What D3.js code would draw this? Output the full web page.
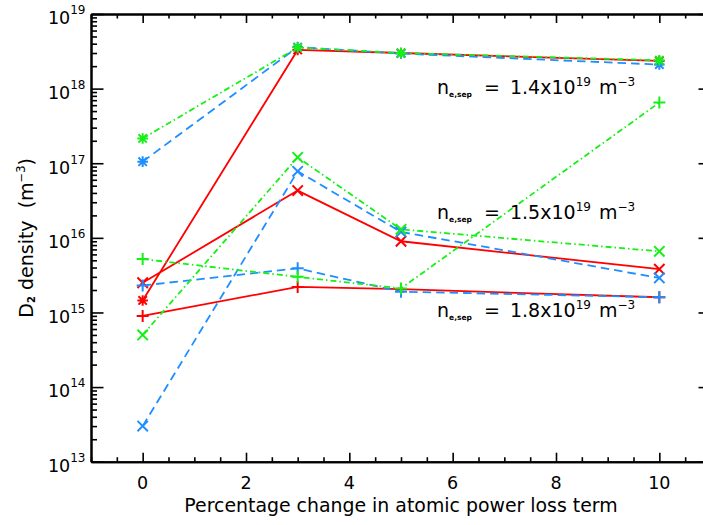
<!DOCTYPE html>
<html>
<head>
<meta charset="utf-8">
<script src="https://cdn.jsdelivr.net/npm/d3@7"></script>
<style>
  body { margin: 0; background: #fff; }
  svg { display: block; }
  text { font-family: "DejaVu Sans", sans-serif; fill: #000; white-space: pre; }
</style>
</head>
<body>
<svg id="chart" width="703" height="525"></svg>
<script>
// Percentage change in the atomic power loss term (x positions of every run)
const xValues = [0, 3, 5, 10];

// D2 density (m^-3) for each upstream separatrix density and each model variant
// red / solid
const redSep14 = [1.45e15, 3.3e18, 3.0e18, 2.35e18];
const redSep15 = [2.5e15, 4.3e16, 9.0e15, 3.8e15];
const redSep18 = [9.0e14, 2.2e15, 2.05e15, 1.6e15];
// blue / dashed
const blueSep14 = [1.05e17, 3.6e18, 2.95e18, 2.1e18];
const blueSep15 = [3.0e13, 7.8e16, 1.2e16, 2.9e15];
const blueSep18 = [2.3e15, 3.9e15, 1.9e15, 1.6e15];
// green / dash-dot
const greenSep14 = [2.15e17, 3.55e18, 3.0e18, 2.4e18];
const greenSep15 = [5.0e14, 1.2e17, 1.3e16, 6.6e15];
const greenSep18 = [5.2e15, 3.0e15, 2.1e15, 6.5e17];

// Axis ticks and annotation text
const xTickValues = [0, 2, 4, 6, 8, 10];
const yDecadeExponents = [13, 14, 15, 16, 17, 18, 19];
const separatrixDensities = ["1.4", "1.5", "1.8"];

const svg = d3.select("#chart");
const plot = { left: 91, right: 711, top: 14, bottom: 461.7 };

const x = d3.scaleLinear().domain([-1, 11]).range([plot.left, plot.right]);
const y = d3.scaleLog().domain([1e13, 1e19]).range([plot.bottom, plot.top]);

const RED = "#ff0000", BLUE = "#1e8fff", GREEN = "#16f016";
const lineStyles = {
  solid: null,
  dashed: "8.5,5",
  dashdot: "6,3,1.5,3"
};

const series = [
  { values: redSep14, color: RED, dash: lineStyles.solid, marker: "asterisk" },
  { values: redSep15, color: RED, dash: lineStyles.solid, marker: "cross" },
  { values: redSep18, color: RED, dash: lineStyles.solid, marker: "plus" },
  { values: blueSep14, color: BLUE, dash: lineStyles.dashed, marker: "asterisk" },
  { values: blueSep15, color: BLUE, dash: lineStyles.dashed, marker: "cross" },
  { values: blueSep18, color: BLUE, dash: lineStyles.dashed, marker: "plus" },
  { values: greenSep14, color: GREEN, dash: lineStyles.dashdot, marker: "asterisk" },
  { values: greenSep15, color: GREEN, dash: lineStyles.dashdot, marker: "cross" },
  { values: greenSep18, color: GREEN, dash: lineStyles.dashdot, marker: "plus" }
];

// ---- minor tick values
const xMinor = d3.range(-1, 11.001, 0.5).filter(v => !xTickValues.includes(v));
const yMajor = yDecadeExponents.map(e => Math.pow(10, e));
const yMinor = [];
yDecadeExponents.slice(0, -1).forEach(e => {
  for (let m = 2; m <= 9; m++) yMinor.push(m * Math.pow(10, e));
});

// ---- axes (ticks point inward on all four sides)
function styleAxis(g, width) {
  g.selectAll("path.domain").attr("stroke", "#000").attr("stroke-width", width);
  g.selectAll(".tick line").attr("stroke", "#000").attr("stroke-width", 1.6);
  g.selectAll(".tick text").remove();
}

const axes = svg.append("g").attr("class", "axes");

axes.append("g").attr("transform", `translate(0,${plot.bottom})`)
  .call(d3.axisBottom(x).tickValues(xMinor).tickSize(-4.5).tickSizeOuter(0).tickFormat(""))
  .call(g => styleAxis(g, 2));
axes.append("g").attr("transform", `translate(0,${plot.bottom})`)
  .call(d3.axisBottom(x).tickValues(xTickValues).tickSize(-9).tickSizeOuter(0).tickFormat(""))
  .call(g => styleAxis(g, 2));
axes.append("g").attr("transform", `translate(0,${plot.top})`)
  .call(d3.axisTop(x).tickValues(xMinor).tickSize(-4.5).tickSizeOuter(0).tickFormat(""))
  .call(g => styleAxis(g, 2));
axes.append("g").attr("transform", `translate(0,${plot.top})`)
  .call(d3.axisTop(x).tickValues(xTickValues).tickSize(-9).tickSizeOuter(0).tickFormat(""))
  .call(g => styleAxis(g, 2));

axes.append("g").attr("transform", `translate(${plot.left},0)`)
  .call(d3.axisLeft(y).tickValues(yMinor).tickSize(-6).tickSizeOuter(0).tickFormat(""))
  .call(g => styleAxis(g, 2));
axes.append("g").attr("transform", `translate(${plot.left},0)`)
  .call(d3.axisLeft(y).tickValues(yMajor).tickSize(-12.5).tickSizeOuter(0).tickFormat(""))
  .call(g => styleAxis(g, 2));
axes.append("g").attr("transform", `translate(${plot.right},0)`)
  .call(d3.axisRight(y).tickValues(yMinor).tickSize(-6).tickSizeOuter(0).tickFormat(""))
  .call(g => styleAxis(g, 2));
axes.append("g").attr("transform", `translate(${plot.right},0)`)
  .call(d3.axisRight(y).tickValues(yMajor).tickSize(-12.5).tickSizeOuter(0).tickFormat(""))
  .call(g => styleAxis(g, 2));

// ---- tick labels
svg.append("g").selectAll("text").data(xTickValues).join("text")
  .attr("x", d => x(d))
  .attr("y", plot.bottom + 27.5)
  .attr("text-anchor", "middle")
  .attr("font-size", 17.5)
  .text(d => d);

const yLabels = svg.append("g").selectAll("text").data(yDecadeExponents).join("text")
  .attr("x", 85.5)
  .attr("y", d => y(Math.pow(10, d)) + 10.3)
  .attr("text-anchor", "end")
  .attr("font-size", 17.5);
yLabels.append("tspan").text("10");
yLabels.append("tspan").attr("font-size", 12).attr("dy", -10).text(d => d);

// ---- axis titles
svg.append("text")
  .attr("x", (plot.left + plot.right) / 2)
  .attr("y", 512)
  .attr("text-anchor", "middle")
  .attr("font-size", 18.9)
  .text("Percentage change in atomic power loss term");

const yTitle = svg.append("text")
  .attr("transform", `translate(32.5,${(plot.top + plot.bottom) / 2}) rotate(-90)`)
  .attr("text-anchor", "middle")
  .attr("font-size", 19);
yTitle.append("tspan").text("D");
yTitle.append("tspan").attr("font-size", 10).attr("font-weight", "bold").attr("dy", 2).text("2");
yTitle.append("tspan").attr("dy", -2).text(" density  (m");
yTitle.append("tspan").attr("font-size", 11.5).attr("dy", -8).text("\u22123");
yTitle.append("tspan").attr("dy", 8).text(")");

// ---- data lines
const line = d3.line()
  .x((d, i) => x(xValues[i]))
  .y(d => y(d));

const marks = svg.append("g");
series.forEach(s => {
  marks.append("path")
    .datum(s.values)
    .attr("d", line)
    .attr("fill", "none")
    .attr("stroke", s.color)
    .attr("stroke-width", 1.8)
    .attr("stroke-dasharray", s.dash);
});

// ---- markers
function markerPath(type) {
  const p = d3.path();
  if (type === "plus" || type === "asterisk") {
    const r = type === "plus" ? 6 : 5.3;
    p.moveTo(-r, 0); p.lineTo(r, 0);
    p.moveTo(0, -r); p.lineTo(0, r);
  }
  if (type === "cross" || type === "asterisk") {
    const r = type === "cross" ? 5.2 : 4.2;
    p.moveTo(-r, -r); p.lineTo(r, r);
    p.moveTo(-r, r); p.lineTo(r, -r);
  }
  return p.toString();
}

series.forEach(s => {
  marks.append("g").selectAll("path").data(s.values).join("path")
    .attr("transform", (d, i) => `translate(${x(xValues[i])},${y(d)})`)
    .attr("d", markerPath(s.marker))
    .attr("fill", "none")
    .attr("stroke", s.color)
    .attr("stroke-width", 2);
});

// ---- separatrix density annotations
const annotationBaselines = [94.3, 219, 317];
const notes = svg.append("g").selectAll("text").data(separatrixDensities).join("text")
  .attr("x", 437)
  .attr("y", (d, i) => annotationBaselines[i])
  .attr("font-size", 19);
notes.append("tspan").text("n");
notes.append("tspan").attr("font-size", 7.5).attr("font-weight", "bold").attr("dy", 2.5).text("e,sep");
notes.append("tspan").attr("dy", -2.5).text("  =  ");
notes.append("tspan").attr("dx", -2).text(d => d + "x10");
notes.append("tspan").attr("font-size", 12).attr("dy", -8.5).text("19");
notes.append("tspan").attr("dy", 8.5).attr("dx", 2).text(" m");
notes.append("tspan").attr("font-size", 12).attr("dy", -8.5).text("\u22123");
</script>
</body>
</html>
